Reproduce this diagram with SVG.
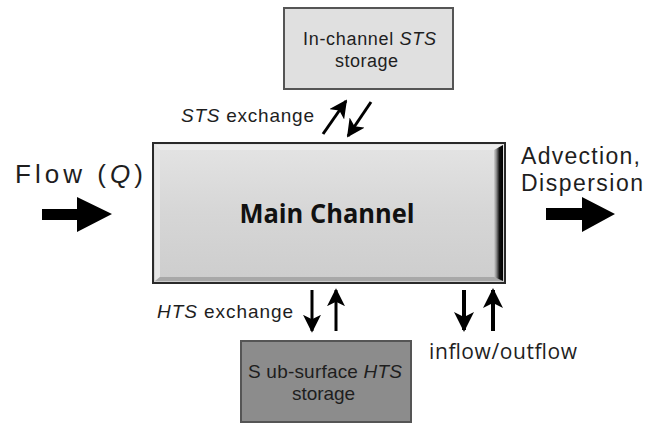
<svg xmlns="http://www.w3.org/2000/svg" width="657" height="426" viewBox="0 0 657 426">
<defs>
<style>
.t{font-family:"Liberation Sans",Arial,sans-serif;fill:#1e1e1e}
.o{font-family:"Open Sans","Noto Sans",sans-serif;fill:#1e1e1e}
.ln{stroke:#000;fill:none}
</style>
<marker id="ah" viewBox="0 0 10 10" refX="9" refY="5" markerWidth="18" markerHeight="18" markerUnits="userSpaceOnUse" orient="auto">
<path d="M0,0 L10,5 L0,10 L2.5,5 z" fill="#000"/>
</marker>
<marker id="ah2" viewBox="0 0 10 10" refX="9" refY="5" markerWidth="20" markerHeight="20" markerUnits="userSpaceOnUse" orient="auto">
<path d="M0,0 L10,5 L0,10 L2.5,5 z" fill="#000"/>
</marker>
<linearGradient id="mg" x1="0" y1="0" x2="0" y2="1">
<stop offset="0" stop-color="#e4e4e4"/>
<stop offset="0.5" stop-color="#d6d6d6"/>
<stop offset="1" stop-color="#cdcdcd"/>
</linearGradient>
<linearGradient id="rg" x1="0" y1="0" x2="1" y2="0">
<stop offset="0" stop-color="#d0d0d0"/>
<stop offset="0.25" stop-color="#909090"/>
<stop offset="0.6" stop-color="#111"/>
<stop offset="1" stop-color="#000"/>
</linearGradient>
</defs>

<g id="main-channel">
<rect x="153" y="143" width="352" height="140" fill="url(#mg)"/>
<polygon points="155,145 503,145 497,150 160,150" fill="#ececec"/>
<polygon points="155,145 160,150 160,277 155,281" fill="#e6e6e6"/>
<polygon points="155,281 160,277 495,277 503,281" fill="#a8a8a8"/>
<polygon points="494,150 503,145 503,281 494,277" fill="url(#rg)"/>
<rect x="153" y="143" width="352" height="140" fill="none" stroke="#2a2a2a" stroke-width="2"/>
<text x="327" y="223" font-family="'Open Sans','Noto Sans',sans-serif" font-weight="bold" font-size="27" fill="#111" text-anchor="middle" textLength="175" lengthAdjust="spacingAndGlyphs">Main Channel</text>
</g>

<g id="sts-storage">
<rect x="284" y="8" width="169" height="81" fill="#e0e0e0" stroke="#555" stroke-width="2"/>
<text class="t" x="303" y="45" font-size="18" textLength="133" lengthAdjust="spacing">In-channel <tspan font-style="italic">STS</tspan></text>
<text class="t" x="335" y="67" font-size="18" textLength="63" lengthAdjust="spacing">storage</text>
</g>

<g id="hts-storage">
<rect x="241" y="341" width="170" height="81" fill="#8c8c8c" stroke="#555" stroke-width="2"/>
<text class="t" x="248" y="378" font-size="19" textLength="154" lengthAdjust="spacing">S ub-surface <tspan font-style="italic">HTS</tspan></text>
<text class="t" x="292" y="400" font-size="19" textLength="63" lengthAdjust="spacing">storage</text>
</g>

<g id="labels">
<text class="t" x="15" y="183" font-size="26" textLength="128" lengthAdjust="spacing">Flow (<tspan font-style="italic">Q</tspan>)</text>
<text class="t" x="521" y="164" font-size="23" textLength="119" lengthAdjust="spacing">Advection,</text>
<text class="t" x="521" y="191" font-size="23" textLength="122" lengthAdjust="spacing">Dispersion</text>
<text class="t" x="181" y="122" font-size="19" textLength="133" lengthAdjust="spacing"><tspan font-style="italic">STS</tspan> exchange</text>
<text class="t" x="157" y="318" font-size="19" textLength="136" lengthAdjust="spacing"><tspan font-style="italic">HTS</tspan> exchange</text>
<text class="o" x="429" y="359" font-size="21" textLength="148" lengthAdjust="spacing">inflow/outflow</text>
</g>

<g id="connectors">
<polygon points="42,209 77,209 77,197 112,214 77,232 77,220 42,220" fill="#000"/>
<polygon points="546,208 582,208 582,197 615,214 582,232 582,220 546,220" fill="#000"/>
<line class="ln" x1="323" y1="134" x2="346" y2="101" stroke-width="3" marker-end="url(#ah)"/>
<line class="ln" x1="371" y1="102" x2="348" y2="136" stroke-width="3" marker-end="url(#ah)"/>
<line class="ln" x1="312" y1="290" x2="312" y2="331" stroke-width="3" marker-end="url(#ah)"/>
<line class="ln" x1="336" y1="331" x2="336" y2="290" stroke-width="3" marker-end="url(#ah)"/>
<line class="ln" x1="464" y1="290" x2="464" y2="330" stroke-width="4" marker-end="url(#ah2)"/>
<line class="ln" x1="493" y1="331" x2="493" y2="290" stroke-width="4" marker-end="url(#ah2)"/>
</g>
</svg>
